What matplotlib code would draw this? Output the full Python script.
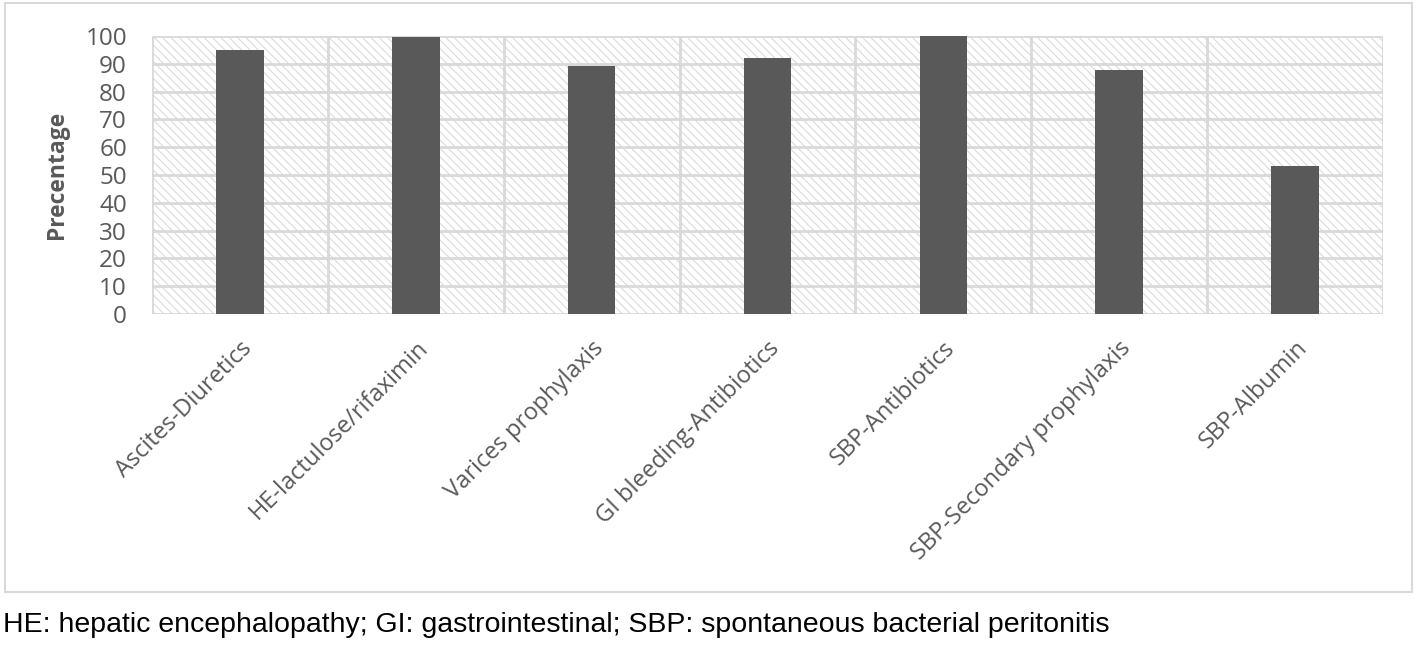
import matplotlib
matplotlib.use("Agg")
import matplotlib.pyplot as plt
from matplotlib.patches import Rectangle

categories = ["Ascites-Diuretics", "HE-lactulose/rifaximin", "Varices prophylaxis",
              "GI bleeding-Antibiotics", "SBP-Antibiotics", "SBP-Secondary prophylaxis",
              "SBP-Albumin"]
values = [95, 99.5, 89.3, 92.2, 100, 87.8, 53.2]
yticks = list(range(0, 101, 10))
footnote = "HE: hepatic encephalopathy; GI: gastrointestinal; SBP: spontaneous bacterial peritonitis"

W, H = 1418, 647
fig = plt.figure(figsize=(W / 100, H / 100), dpi=100)
plt.rcParams['hatch.linewidth'] = 0.7

# outer chart border
fig.patches.append(Rectangle((5 / W, 1 - 592 / H), 1407 / W, 589 / H, transform=fig.transFigure,
                             fill=False, edgecolor='#d9d9d9', linewidth=1.5))

ax = fig.add_axes([152 / W, 1 - 314 / H, (1383 - 152) / W, (314 - 36) / H])
n = len(categories)
ax.set_xlim(-0.5, n - 0.5)
ax.set_ylim(0, 100)
ax.add_patch(Rectangle((-0.5, 0), n, 100, facecolor='white', edgecolor='#d6d6d6',
                       linewidth=0, hatch='\\\\\\\\', zorder=0.5))
for y in yticks:
    ax.axhline(y, color='#d9d9d9', linewidth=2, zorder=1)
for i in range(n + 1):
    ax.axvline(i - 0.5, color='#d9d9d9', linewidth=2, zorder=1)

ax.bar(range(n), values, width=0.27, color='#595959', zorder=2)

for s in ax.spines.values():
    s.set_visible(False)
ax.set_yticks(yticks)
ax.set_yticklabels([str(v) for v in yticks], fontsize=17.5, color='#595959', family='Open Sans')
ax.set_xticks(range(n))
ax.set_xticklabels(categories, rotation=45, ha='right', rotation_mode='anchor',
                   fontsize=17, color='#595959', family='Open Sans')
ax.tick_params(axis='y', length=0, pad=18)
ax.tick_params(axis='x', length=0, pad=16)
ax.set_ylabel("Precentage", fontsize=16.5, fontweight='bold', color='#595959',
              family='Open Sans', labelpad=12)

fig.text(3 / W, 1 - 625 / H, footnote, fontsize=20.5, color='black',
         family='Liberation Sans', va='center', ha='left')

fig.savefig("out.png", dpi=100)
